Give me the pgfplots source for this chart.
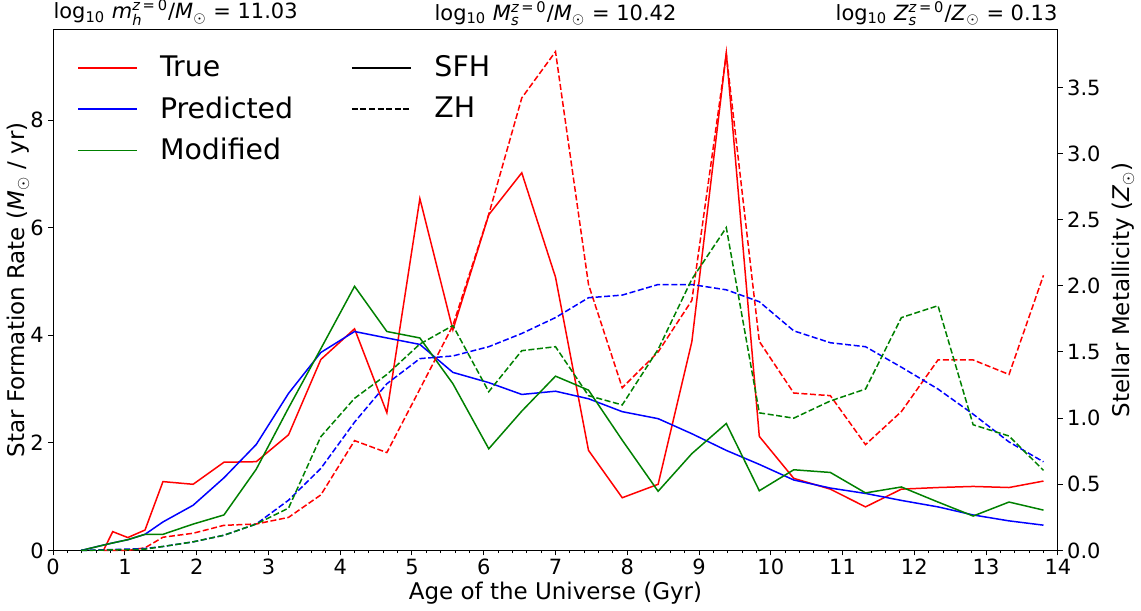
\documentclass[border=0pt]{standalone}
\usepackage{fontspec}
\setmainfont{DejaVu Sans}
\usepackage{amsmath}
\usepackage{pgfplots}
\pgfplotsset{compat=1.18}
\definecolor{mred}{HTML}{FF0000}
\definecolor{mblue}{HTML}{0000FF}
\definecolor{mgreen}{HTML}{008000}
\tikzset{
  sfh/.style={line width=0.75pt, solid},
  zh/.style={line width=0.75pt, dash pattern=on 3pt off 1.3pt},
}
\begin{document}
\begin{tikzpicture}
\pgfplotsset{
  every axis/.append style={
    width=503pt, height=261pt, scale only axis,
    xmin=0, xmax=14,
    font=\fontsize{10.5}{12}\selectfont,
    tick align=outside,
    major tick length=2.5pt, minor tick length=1.3pt,
    every tick/.style={black, line width=0.5pt},
    axis line style={line width=0.5pt},
    /pgf/number format/assume math mode=true,
    label style={font=\fontsize{11.5}{13}\selectfont},
    yticklabel style={inner sep=2pt},
    xticklabel style={inner sep=1.5pt},
  },
}
\begin{axis}[
  ymin=0, ymax=9.69,
  xtick={0,1,...,14}, minor x tick num=4,
  xtick pos=lower, ytick pos=left,
  ytick={0,2,4,6,8},
  xlabel={Age of the Universe (Gyr)},
  xlabel style={yshift=1.5pt},
  ylabel={Star Formation Rate (\textit{M}$_\odot$ / yr)},
  ylabel shift=-5pt,
  legend columns=2,
  legend cell align=left,
  legend image code/.code={\draw[#1] (0pt,0pt) -- (29.5pt,0pt);},
  legend style={draw=none, fill=none, at={(0.018,0.965)}, anchor=north west,
    font=\fontsize{14.2}{16}\selectfont, row sep=4.5pt,
    /tikz/every odd column/.append style={column sep=9pt},
    /tikz/every even column/.append style={column sep=27pt}},
]
\addlegendimage{mred, sfh}\addlegendentry{True}
\addlegendimage{black, sfh}\addlegendentry{\hspace{0.5pt}SFH}
\addlegendimage{mblue, sfh}\addlegendentry{Predicted}
\addlegendimage{black, zh}\addlegendentry{\hspace{0.5pt}ZH}
\addlegendimage{mgreen, sfh}\addlegendentry{Modified}

% True SFH
\addplot[mred, sfh, forget plot] coordinates {
(0.70,0) (0.83,0.35) (1.04,0.24) (1.28,0.38) (1.53,1.28) (1.95,1.23) (2.38,1.64)
(2.83,1.65) (3.28,2.15) (3.73,3.55) (4.20,4.12) (4.65,2.56) (5.11,6.54) (5.57,4.10)
(6.07,6.24) (6.53,7.02) (7.00,5.08) (7.46,1.86) (7.93,0.98) (8.43,1.23) (8.90,3.88)
(9.38,9.25) (9.84,2.12) (10.32,1.34) (10.83,1.14) (11.32,0.81) (11.82,1.14) (12.33,1.17)
(12.82,1.19) (13.32,1.17) (13.80,1.29)};
% Predicted SFH
\addplot[mblue, sfh, forget plot] coordinates {
(0.39,0) (0.70,0.10) (0.83,0.14) (1.04,0.20) (1.28,0.30) (1.53,0.53) (1.95,0.84)
(2.38,1.35) (2.83,1.97) (3.28,2.92) (3.73,3.68) (4.20,4.07) (4.65,3.95) (5.11,3.83)
(5.57,3.31) (6.07,3.12) (6.53,2.90) (7.00,2.96) (7.46,2.82) (7.93,2.58) (8.43,2.45)
(8.90,2.17) (9.38,1.86) (9.84,1.60) (10.32,1.31) (10.83,1.16) (11.32,1.06) (11.82,0.93)
(12.33,0.81) (12.82,0.66) (13.32,0.55) (13.80,0.47)};
% Modified SFH
\addplot[mgreen, sfh, forget plot] coordinates {
(0.39,0) (0.70,0.10) (0.83,0.14) (1.04,0.20) (1.28,0.30) (1.53,0.30) (1.95,0.49)
(2.38,0.66) (2.83,1.51) (3.28,2.65) (3.73,3.75) (4.20,4.91) (4.65,4.07) (5.11,3.95)
(5.57,3.10) (6.07,1.89) (6.53,2.59) (7.00,3.24) (7.46,2.98) (7.93,2.05) (8.43,1.10)
(8.90,1.80) (9.38,2.36) (9.84,1.11) (10.32,1.50) (10.83,1.45) (11.32,1.07) (11.82,1.18)
(12.33,0.90) (12.82,0.64) (13.32,0.90) (13.80,0.75)};
\end{axis}

\begin{axis}[
  ymin=0, ymax=3.94,
  axis x line=none, axis y line*=right,
  ytick={0,0.5,...,3.5},
  yticklabel style={/pgf/number format/.cd, fixed, fixed zerofill, precision=1},
  ylabel={Stellar Metallicity (\textit{Z}$_\odot$)},
  clip=false,
]
% True ZH
\addplot[mred, zh] coordinates {
(0.70,0) (1.04,0) (1.28,0.02) (1.53,0.10) (1.95,0.13) (2.38,0.19) (2.83,0.20) (3.28,0.25)
(3.73,0.42) (4.20,0.83) (4.65,0.74) (5.11,1.22) (5.57,1.70) (6.07,2.54) (6.53,3.42)
(7.00,3.77) (7.46,2.01) (7.93,1.23) (8.43,1.50) (8.90,1.89) (9.38,3.75) (9.84,1.58)
(10.32,1.19) (10.83,1.17) (11.32,0.80) (11.82,1.05) (12.33,1.44) (12.82,1.44)
(13.32,1.33) (13.80,2.08)};
% Predicted ZH
\addplot[mblue, zh] coordinates {
(0.39,0) (0.70,0.005) (1.04,0.01) (1.28,0.015) (1.53,0.03) (1.95,0.065) (2.38,0.115)
(2.83,0.20) (3.28,0.38) (3.73,0.62) (4.20,0.97) (4.65,1.26) (5.11,1.45) (5.57,1.47)
(6.07,1.54) (6.53,1.64) (7.00,1.76) (7.46,1.91) (7.93,1.93) (8.43,2.01) (8.90,2.01)
(9.38,1.97) (9.84,1.88) (10.32,1.66) (10.83,1.57) (11.32,1.54) (11.82,1.385)
(12.33,1.22) (12.82,1.03) (13.32,0.82) (13.80,0.67)};
% Modified ZH
\addplot[mgreen, zh] coordinates {
(0.39,0) (0.70,0.003) (1.04,0.007) (1.28,0.01) (1.53,0.03) (1.95,0.065) (2.38,0.115)
(2.83,0.20) (3.28,0.32) (3.73,0.86) (4.20,1.15) (4.65,1.33) (5.11,1.56) (5.57,1.70)
(6.07,1.20) (6.53,1.51) (7.00,1.54) (7.46,1.17) (7.93,1.10) (8.43,1.52) (8.90,2.05)
(9.38,2.44) (9.84,1.04) (10.32,1.00) (10.83,1.13) (11.32,1.22) (11.82,1.76)
(12.33,1.85) (12.82,0.95) (13.32,0.865) (13.80,0.605)};

\node[anchor=south west, inner sep=0pt, yshift=1.5pt] at (rel axis cs:0,1)
  {log$_{\text{10}}$ \textit{m}$_{\textit{h}}^{\textit{z}\,\text{=}\,\text{0}}$/\textit{M}$_\odot$ = 11.03};
\node[anchor=south, inner sep=0pt, yshift=1.5pt] at (rel axis cs:0.5,1)
  {log$_{\text{10}}$ \textit{M}$_{\textit{s}}^{\textit{z}\,\text{=}\,\text{0}}$/\textit{M}$_\odot$ = 10.42};
\node[anchor=south east, inner sep=0pt, yshift=1.5pt] at (rel axis cs:1,1)
  {log$_{\text{10}}$ \textit{Z}$_{\textit{s}}^{\textit{z}\,\text{=}\,\text{0}}$/\textit{Z}$_\odot$ = 0.13};
\end{axis}
\end{tikzpicture}
\end{document}
